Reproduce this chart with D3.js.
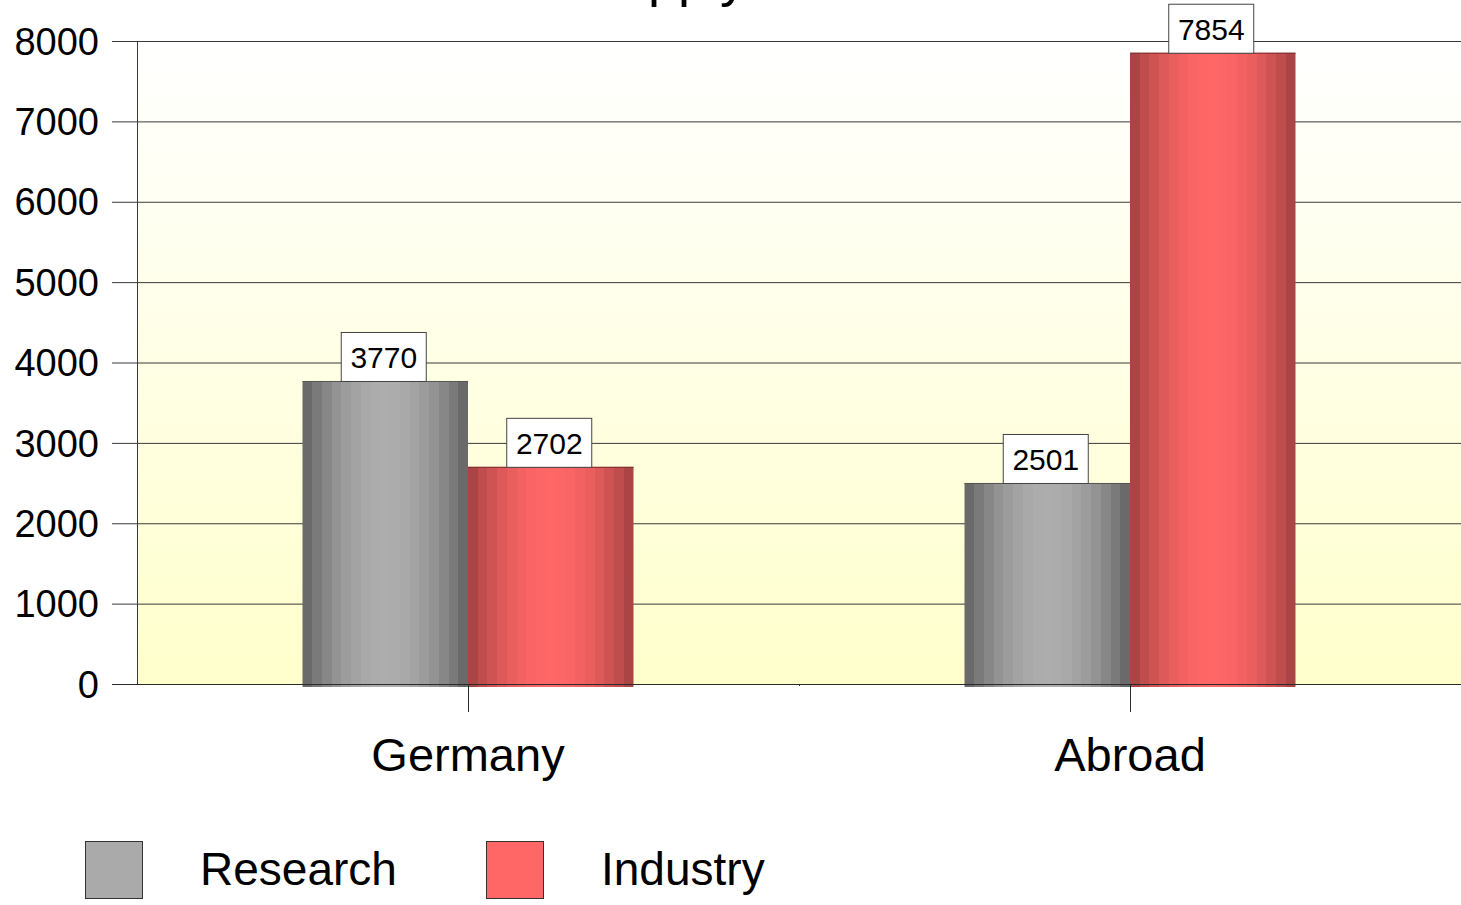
<!DOCTYPE html>
<html>
<head>
<meta charset="utf-8">
<script src="https://cdn.jsdelivr.net/npm/d3@7"></script>
<style>
  html, body { margin: 0; padding: 0; background: #ffffff; }
  svg { display: block; font-family: "Liberation Sans", Arial, sans-serif; }
</style>
</head>
<body>
<svg id="chart" width="1461" height="905"></svg>
<script>
// Chart data
const categories = ["Germany", "Abroad"];
const seriesNames = ["Research", "Industry"];
const research = [3770, 2501];
const industry = [2702, 7854];
const yTicks = [0, 1000, 2000, 3000, 4000, 5000, 6000, 7000, 8000];
const titleText = "Supply";

const seriesValues = [research, industry];
const edgeColors = ["#5e5e5e", "#9c3f3f"];
const centerColors = ["#adadad", "#ff6666"];
const swatchColors = ["#aaaaaa", "#ff6666"];

const svg = d3.select("#chart");
const plot = { left: 137, right: 1461, top: 41, bottom: 684 };

const x = d3.scaleBand().domain(categories).range([plot.left, plot.right]);
const xs = d3.scaleBand().domain(seriesNames)
  .range([0, x.bandwidth()]).paddingInner(0).paddingOuter(1);
const y = d3.scaleLinear().domain([0, 8000]).range([plot.bottom, plot.top]);

const defs = svg.append("defs");

// plot background: white at top fading to pale yellow
const bg = defs.append("linearGradient").attr("id", "bgGrad")
  .attr("x1", 0).attr("y1", 0).attr("x2", 0).attr("y2", 1);
bg.append("stop").attr("offset", "0%").attr("stop-color", "#ffffff");
bg.append("stop").attr("offset", "100%").attr("stop-color", "#ffffcc");

// banded cylinder-like shading for the bars
seriesNames.forEach((name, i) => {
  const g = defs.append("linearGradient").attr("id", "barGrad" + i)
    .attr("x1", 0).attr("y1", 0).attr("x2", 1).attr("y2", 0);
  const bands = 17;
  const interp = d3.interpolateRgb(edgeColors[i], centerColors[i]);
  for (let b = 0; b < bands; b++) {
    const mid = (b + 0.5) / bands;
    const c = interp(Math.pow(Math.sin(Math.PI * mid), 0.8));
    g.append("stop").attr("offset", (b / bands * 100) + "%").attr("stop-color", c);
    g.append("stop").attr("offset", ((b + 1) / bands * 100) + "%").attr("stop-color", c);
  }
});

// title (sits mostly above the visible area)
svg.append("text")
  .attr("x", 582).attr("y", -4)
  .attr("font-size", 54)
  .attr("fill", "#000")
  .text(titleText);

// plot background
svg.append("rect")
  .attr("x", plot.left).attr("y", plot.top)
  .attr("width", plot.right - plot.left).attr("height", plot.bottom - plot.top)
  .attr("fill", "url(#bgGrad)");

// horizontal gridlines with outer ticks
svg.append("g").selectAll("line").data(yTicks.filter(d => d > 0)).join("line")
  .attr("x1", 112).attr("x2", plot.right)
  .attr("y1", d => y(d) + 0.5).attr("y2", d => y(d) + 0.5)
  .attr("stroke", "#3a3a3a").attr("stroke-width", 1);

// y tick labels
svg.append("g").selectAll("text").data(yTicks).join("text")
  .attr("x", 99).attr("y", d => y(d))
  .attr("dy", "0.36em")
  .attr("text-anchor", "end")
  .attr("font-size", 38)
  .attr("fill", "#000")
  .text(d => d);

// y axis line
svg.append("line")
  .attr("x1", plot.left + 0.5).attr("x2", plot.left + 0.5)
  .attr("y1", plot.top).attr("y2", plot.bottom)
  .attr("stroke", "#3a3a3a");

// bars
const groups = svg.append("g").selectAll("g").data(categories).join("g")
  .attr("transform", d => `translate(${x(d)},0)`);

groups.each(function(cat, ci) {
  const g = d3.select(this);
  seriesNames.forEach((s, si) => {
    const v = seriesValues[si][ci];
    g.append("rect")
      .attr("x", xs(s))
      .attr("y", y(v))
      .attr("width", xs.bandwidth())
      .attr("height", y(0) - y(v) + 3)
      .attr("fill", `url(#barGrad${si})`);
    g.append("line")
      .attr("x1", xs(s)).attr("x2", xs(s) + xs.bandwidth())
      .attr("y1", y(v) + 0.5).attr("y2", y(v) + 0.5)
      .attr("stroke", si === 0 ? "#555" : "#7a2e2e").attr("stroke-width", 1);
  });
});

// x axis line and category ticks (drawn over the bars)
svg.append("line")
  .attr("x1", 112).attr("x2", plot.right)
  .attr("y1", plot.bottom + 0.5).attr("y2", plot.bottom + 0.5)
  .attr("stroke", "#2a2a2a");

svg.append("g").selectAll("line").data(categories).join("line")
  .attr("x1", d => x(d) + x.bandwidth() / 2 + 0.5)
  .attr("x2", d => x(d) + x.bandwidth() / 2 + 0.5)
  .attr("y1", plot.bottom).attr("y2", plot.bottom + 28)
  .attr("stroke", "#2a2a2a");

// small boundary mark between categories
svg.append("line")
  .attr("x1", x(categories[1]) + 0.5).attr("x2", x(categories[1]) + 0.5)
  .attr("y1", plot.bottom).attr("y2", plot.bottom + 2)
  .attr("stroke", "#2a2a2a");

// category labels
svg.append("g").selectAll("text").data(categories).join("text")
  .attr("x", d => x(d) + x.bandwidth() / 2)
  .attr("y", 771)
  .attr("text-anchor", "middle")
  .attr("font-size", 47)
  .attr("fill", "#000")
  .text(d => d);

// value labels in white boxes
groups.each(function(cat, ci) {
  const g = d3.select(this);
  seriesNames.forEach((s, si) => {
    const v = seriesValues[si][ci];
    const cx = xs(s) + xs.bandwidth() / 2;
    const bw = 85, bh = 49;
    g.append("rect")
      .attr("x", cx - bw / 2 - 1.5).attr("y", y(v) - bh + 0.5)
      .attr("width", bw).attr("height", bh)
      .attr("fill", "#ffffff").attr("stroke", "#444").attr("stroke-width", 1);
    g.append("text")
      .attr("x", cx - 1.5).attr("y", y(v) - bh / 2 + 0.5)
      .attr("dy", "0.36em")
      .attr("text-anchor", "middle")
      .attr("font-size", 30)
      .attr("fill", "#000")
      .text(v);
  });
});

// legend
const legendX = [85, 486];
const legend = svg.append("g").selectAll("g").data(seriesNames).join("g")
  .attr("transform", (d, i) => `translate(${legendX[i]},841)`);
legend.append("rect")
  .attr("x", 0.5).attr("y", 0.5).attr("width", 57).attr("height", 57)
  .attr("fill", (d, i) => swatchColors[i])
  .attr("stroke", "#333").attr("stroke-width", 1);
legend.append("text")
  .attr("x", 115).attr("y", 44)
  .attr("font-size", 46)
  .attr("fill", "#000")
  .text(d => d);
</script>
</body>
</html>
